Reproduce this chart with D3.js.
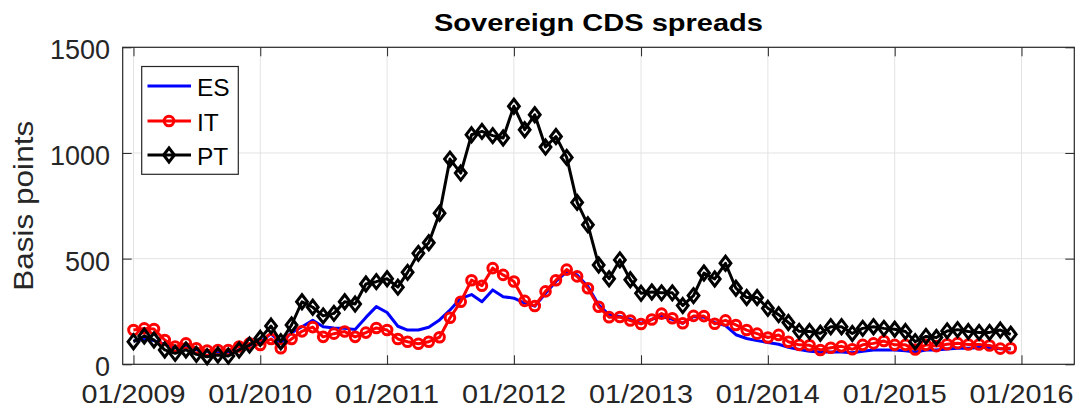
<!DOCTYPE html>
<html>
<head>
<meta charset="utf-8">
<script src="https://cdn.jsdelivr.net/npm/d3@7"></script>
<style>
  html, body { margin: 0; padding: 0; background: #fff; }
  svg { display: block; }
  text { font-family: "Liberation Sans", Arial, Helvetica, sans-serif; fill: #262626; }
</style>
</head>
<body>
<svg id="chart" width="1076" height="408"></svg>
<script>
// Monthly observations, January 2009 to December 2015 (basis points)
const startYear = 2009;
const nMonths = 84;
const months = d3.range(nMonths).map(i => new Date(startYear, i, 1));

const esSpread = [
  110, 120, 112, 95, 78, 85, 70, 62, 60, 58, 68, 90,
  105, 145, 100, 150, 178, 208, 178, 172, 170, 165, 222, 273,
  245, 180, 162, 162, 175, 210, 257, 312, 330, 296, 352, 320,
  313, 290, 275, 336, 392, 439, 423, 368, 281, 234, 226, 213,
  194, 213, 226, 213, 194, 226, 223, 197, 183, 140, 122, 112,
  103, 95, 80, 70, 62, 58, 58, 58, 55, 62, 68, 68,
  68, 64, 58, 68, 68, 72, 76, 76, 80, 80, 74, 72
];
const itSpread = [
  162, 170, 167, 115, 84, 99, 76, 65, 68, 68, 84, 99,
  91, 120, 76, 120, 156, 176, 130, 145, 155, 130, 150, 172,
  162, 120, 107, 97, 107, 128, 220, 296, 398, 372, 455, 423,
  392, 300, 276, 345, 398, 448, 416, 360, 272, 223, 224, 207,
  191, 212, 240, 218, 194, 229, 228, 192, 208, 186, 162, 145,
  127, 139, 107, 92, 90, 68, 78, 85, 71, 92, 99, 110,
  92, 92, 70, 92, 86, 95, 100, 94, 94, 89, 74, 76
];
const ptSpread = [
  107, 134, 115, 68, 52, 68, 47, 36, 44, 39, 68, 91,
  123, 181, 107, 186, 296, 270, 229, 241, 296, 285, 380, 391,
  405, 365, 435, 525, 575, 715, 971, 905, 1086, 1102, 1082, 1071,
  1221, 1110, 1181, 1028, 1078, 979, 766, 660, 470, 405, 494, 400,
  336, 342, 338, 338, 278, 325, 432, 404, 478, 360, 316, 316,
  265, 235, 198, 156, 155, 147, 178, 178, 146, 170, 178, 170,
  166, 155, 107, 132, 127, 158, 164, 155, 151, 151, 162, 142
];

const seriesNames = ["ES", "IT", "PT"];
const seriesColors = ["#0000ff", "#ff0000", "#000000"];
const seriesMarkers = ["none", "circle", "diamond"];
const yTicks = [0, 500, 1000, 1500];
const xTickYears = [2009, 2010, 2011, 2012, 2013, 2014, 2015, 2016];

const titleText = "Sovereign CDS spreads";
const yLabelText = "Basis points";

const svg = d3.select("#chart");
const plot = { left: 122.7, right: 1074.3, top: 47.3, bottom: 364.3 };

const x = d3.scaleTime()
  .domain([new Date(2008, 11, 1), new Date(2016, 5, 1)])
  .range([plot.left, plot.right]);
const y = d3.scaleLinear()
  .domain([0, 1500])
  .range([plot.bottom, plot.top]);

const xTickDates = xTickYears.map(yr => new Date(yr, 0, 1));
const fmt = d3.timeFormat("%m/%Y");

// grid
const grid = svg.append("g").attr("stroke", "#e3e3e3").attr("stroke-width", 1);
grid.selectAll("line.vx").data(xTickDates).join("line")
  .attr("x1", d => x(d)).attr("x2", d => x(d))
  .attr("y1", plot.top).attr("y2", plot.bottom);
grid.selectAll("line.hy").data(yTicks.filter(v => v > 0 && v < 1500)).join("line")
  .attr("x1", plot.left).attr("x2", plot.right)
  .attr("y1", d => y(d)).attr("y2", d => y(d));

// axes with inward ticks
const tickLen = 9;
const axColor = "#262626";

const xAxisBottom = d3.axisBottom(x).tickValues(xTickDates).tickFormat("").tickSizeInner(-tickLen).tickSizeOuter(0);
const xAxisTop = d3.axisTop(x).tickValues(xTickDates).tickFormat("").tickSizeInner(-tickLen).tickSizeOuter(0);
const yAxisLeft = d3.axisLeft(y).tickValues(yTicks).tickFormat("").tickSizeInner(-tickLen).tickSizeOuter(0);
const yAxisRight = d3.axisRight(y).tickValues(yTicks).tickFormat("").tickSizeInner(-tickLen).tickSizeOuter(0);

function styleAxis(g) {
  g.selectAll("path.domain").attr("stroke", "none");
  g.selectAll(".tick line").attr("stroke", axColor).attr("stroke-width", 1);
}
svg.append("g").attr("transform", `translate(0,${plot.bottom})`).call(xAxisBottom).call(styleAxis);
svg.append("g").attr("transform", `translate(0,${plot.top})`).call(xAxisTop).call(styleAxis);
svg.append("g").attr("transform", `translate(${plot.left},0)`).call(yAxisLeft).call(styleAxis);
svg.append("g").attr("transform", `translate(${plot.right},0)`).call(yAxisRight).call(styleAxis);

// frame
svg.append("rect")
  .attr("x", plot.left).attr("y", plot.top)
  .attr("width", plot.right - plot.left).attr("height", plot.bottom - plot.top)
  .attr("fill", "none").attr("stroke", axColor).attr("stroke-width", 1.2);

// tick labels
svg.append("g").selectAll("text").data(xTickDates).join("text")
  .attr("x", d => x(d)).attr("y", 403)
  .attr("text-anchor", "middle")
  .attr("font-size", 25.5)
  .attr("textLength", 104).attr("lengthAdjust", "spacingAndGlyphs")
  .text(d => fmt(d));

svg.append("g").selectAll("text").data(yTicks).join("text")
  .attr("x", 110).attr("y", d => y(d) + 12)
  .attr("text-anchor", "end")
  .attr("font-size", 27)
  .text(d => d);

// axis label and title
svg.append("text")
  .attr("transform", `translate(32.5,${(plot.top + plot.bottom) / 2}) rotate(-90)`)
  .attr("text-anchor", "middle")
  .attr("font-size", 27.5)
  .attr("textLength", 170).attr("lengthAdjust", "spacingAndGlyphs")
  .text(yLabelText);

svg.append("text")
  .attr("x", (plot.left + plot.right) / 2).attr("y", 30.5)
  .attr("text-anchor", "middle")
  .attr("font-size", 24.5).attr("font-weight", "bold")
  .attr("textLength", 329).attr("lengthAdjust", "spacingAndGlyphs")
  .style("fill", "#000")
  .text(titleText);

// series
const seriesValues = [esSpread, itSpread, ptSpread];
const series = seriesNames.map((name, k) => ({
  name, color: seriesColors[k], marker: seriesMarkers[k],
  points: months.map((m, i) => ({ date: m, value: seriesValues[k][i] }))
}));

const line = d3.line().x(d => x(d.date)).y(d => y(d.value));
const diamondPath = "M0,-7L5.4,0L0,7L-5.4,0Z";
const strokeW = 3;

function drawMarker(sel, marker, color) {
  if (marker === "circle") {
    sel.append("circle").attr("r", 4.8)
      .attr("fill", "none").attr("stroke", color).attr("stroke-width", strokeW);
  } else if (marker === "diamond") {
    sel.append("path").attr("d", diamondPath)
      .attr("fill", "none").attr("stroke", color).attr("stroke-width", strokeW)
      .attr("stroke-linejoin", "miter");
  }
}

const plotArea = svg.append("g");
series.forEach(s => {
  const g = plotArea.append("g");
  g.append("path").datum(s.points)
    .attr("d", line)
    .attr("fill", "none").attr("stroke", s.color).attr("stroke-width", strokeW)
    .attr("stroke-linejoin", "round");
  if (s.marker !== "none") {
    g.selectAll("g.mk").data(s.points).join("g")
      .attr("transform", d => `translate(${x(d.date)},${y(d.value)})`)
      .each(function () { drawMarker(d3.select(this), s.marker, s.color); });
  }
});

// legend
const legend = svg.append("g");
legend.append("rect")
  .attr("x", 141.7).attr("y", 66.5).attr("width", 96.6).attr("height", 107.8)
  .attr("fill", "#fff").attr("stroke", axColor).attr("stroke-width", 1.2);
const legendRows = [86, 121, 155];
series.forEach((s, k) => {
  const row = legend.append("g").attr("transform", `translate(0,${legendRows[k]})`);
  row.append("line").attr("x1", 147.5).attr("x2", 191).attr("y1", 0).attr("y2", 0)
    .attr("stroke", s.color).attr("stroke-width", strokeW);
  const mk = row.append("g").attr("transform", "translate(169,0)");
  drawMarker(mk, s.marker, s.color);
  row.append("text").attr("x", 197).attr("y", 9.5)
    .attr("font-size", 24.5).style("fill", "#000")
    .text(s.name);
});
</script>
</body>
</html>
